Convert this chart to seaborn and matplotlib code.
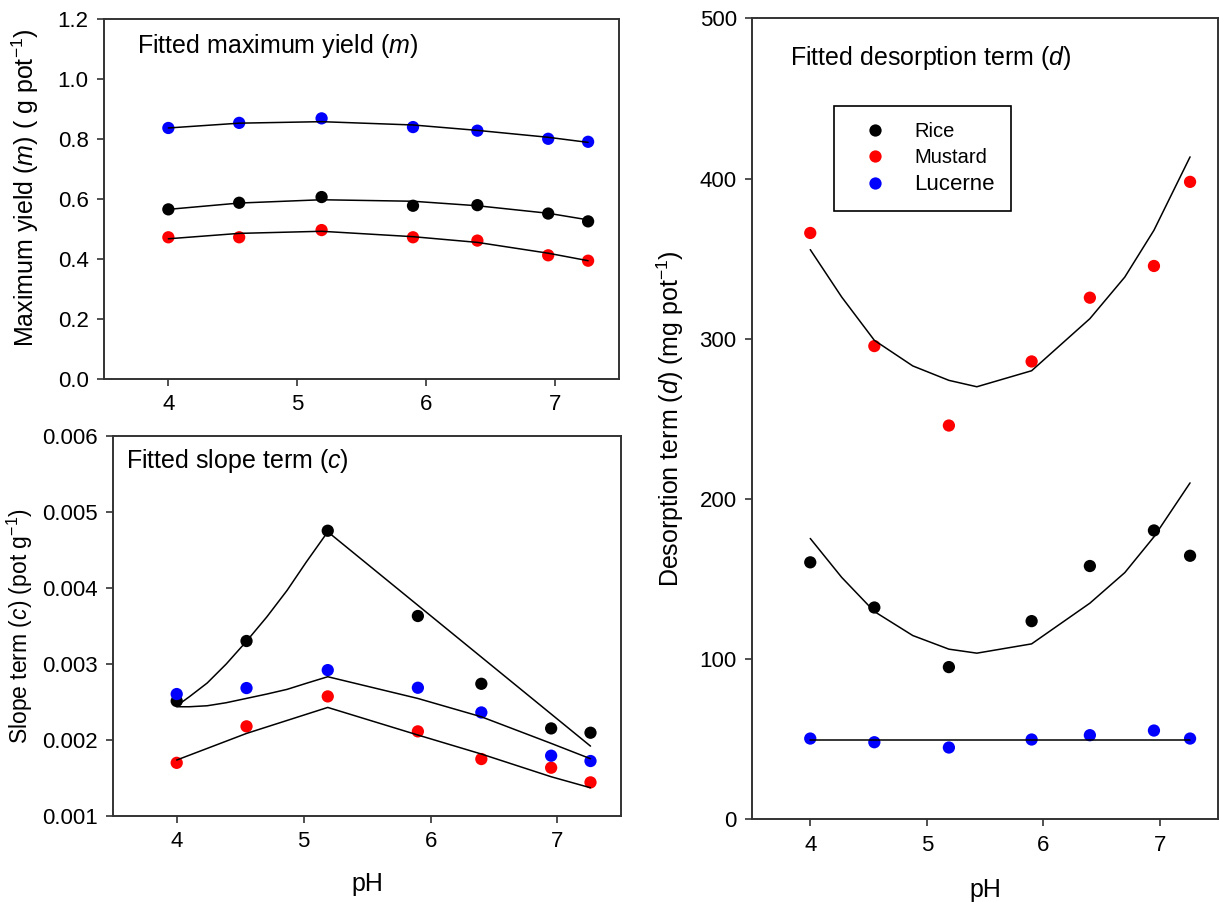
import pandas as pd
import matplotlib
matplotlib.use("Agg")
import matplotlib.pyplot as plt
import seaborn as sns

# ------------------------------------------
# Data
# ------------------------------------------
ph = [4.0, 4.55, 5.19, 5.90, 6.40, 6.95, 7.26]
crops = ["Rice", "Mustard", "Lucerne"]
colors = {"Rice": "#000000", "Mustard": "#ff0000", "Lucerne": "#0000ff"}

# fitted maximum yield m (g pot-1)
m_rice = [0.565, 0.587, 0.606, 0.577, 0.579, 0.551, 0.525]
m_mustard = [0.472, 0.472, 0.496, 0.472, 0.461, 0.412, 0.394]
m_lucerne = [0.836, 0.853, 0.868, 0.839, 0.827, 0.800, 0.790]

m_fit_rice = [0.565, 0.586, 0.597, 0.592, 0.577, 0.552, 0.530]
m_fit_mustard = [0.467, 0.485, 0.492, 0.474, 0.455, 0.419, 0.394]
m_fit_lucerne = [0.836, 0.852, 0.857, 0.846, 0.828, 0.805, 0.788]

# fitted slope term c (pot g-1)
c_rice = [0.002513, 0.003303, 0.004754, 0.003632, 0.002740, 0.002153, 0.002096]
c_mustard = [0.001700, 0.002180, 0.002574, 0.002114, 0.001750, 0.001636, 0.001443]
c_lucerne = [0.002605, 0.002684, 0.002920, 0.002688, 0.002363, 0.001794, 0.001724]

c_fit_curve_ph = [4.0, 4.10, 4.24, 4.39, 4.55, 4.71, 4.87, 5.02, 5.19]
c_fit_rice = [0.00245, 0.00257, 0.00275, 0.00300, 0.00330, 0.00362,
              0.00397, 0.00434, 0.00474, 0.00192]
c_fit_lucerne = [0.002438, 0.002438, 0.002451, 0.002491, 0.002548, 0.002605,
                 0.002667, 0.002746, 0.002833,
                 0.002547, 0.002306, 0.001956, 0.001754]
c_fit_mustard = [0.001737, 0.002087, 0.002429, 0.002066, 0.001816, 0.001517, 0.001372]

# fitted desorption term d (mg pot-1)
d_rice = [160.4, 132.2, 95.0, 123.7, 158.1, 180.3, 164.5]
d_mustard = [366.0, 295.4, 245.8, 285.8, 325.6, 345.4, 397.9]
d_lucerne = [50.4, 48.1, 44.8, 49.8, 52.5, 55.4, 50.4]

d_fit_ph = [4.0, 4.27, 4.55, 4.88, 5.19, 5.43, 5.90, 6.40, 6.70, 6.95, 7.26]
d_fit_rice = [175.3, 151.0, 129.7, 114.7, 106.2, 103.7, 109.5, 134.9, 154.0, 176.3, 210.0]
d_fit_mustard = [355.6, 326.0, 299.0, 283.0, 274.0, 270.0, 280.0, 312.5, 338.5, 367.7, 413.5]
d_fit_lucerne_ph = [4.0, 7.26]
d_fit_lucerne = [49.2, 49.2]


def long_df(series):
    rows = []
    for crop, (x, y) in series.items():
        for xi, yi in zip(x, y):
            rows.append({"pH": xi, "value": yi, "crop": crop})
    return pd.DataFrame(rows)


# ------------------------------------------
# Style
# ------------------------------------------
sns.set_style("ticks")
plt.rcParams["font.family"] = ["Liberation Sans", "DejaVu Sans"]
plt.rcParams["mathtext.fontset"] = "custom"
plt.rcParams["mathtext.rm"] = "Liberation Sans"
plt.rcParams["mathtext.it"] = "Liberation Sans:italic"
plt.rcParams["text.color"] = "black"
plt.rcParams["axes.labelcolor"] = "black"
plt.rcParams["xtick.color"] = "black"
plt.rcParams["ytick.color"] = "black"

TICK_FS = 16
LABEL_FS = 18
TITLE_FS = 18

fig = plt.figure(figsize=(12.19, 9.02), dpi=100)
ax_m = fig.add_axes([0.0853, 0.5798, 0.4225, 0.3995])
ax_c = fig.add_axes([0.0929, 0.0953, 0.4165, 0.4213])
ax_d = fig.add_axes([0.6169, 0.0917, 0.3823, 0.8880])


def draw_panel(ax, points, fits, legend=False):
    pts = long_df(points)
    sns.scatterplot(data=pts, x="pH", y="value", hue="crop", hue_order=crops,
                    palette=colors, s=78, linewidth=0, ax=ax, legend=legend,
                    zorder=2)
    fit = long_df(fits)
    for crop in crops:
        sub = fit[fit["crop"] == crop]
        sns.lineplot(data=sub, x="pH", y="value", color="black", lw=1.1,
                     sort=False, estimator=None, ax=ax, zorder=3)
    ax.set_xlim(3.5, 7.5)
    ax.set_xticks([4, 5, 6, 7])
    for side in ["top", "right", "left", "bottom"]:
        ax.spines[side].set_visible(True)
        ax.spines[side].set_color("#333333")
        ax.spines[side].set_linewidth(1.4)
    ax.tick_params(direction="out", length=5, width=1.2, pad=6,
                   labelsize=TICK_FS, color="#333333", labelcolor="black",
                   top=False, right=False)
    ax.set_xlabel("")
    ax.set_ylabel("")


# ------------------------------------------
# Maximum yield panel
# ------------------------------------------
draw_panel(
    ax_m,
    {"Rice": (ph, m_rice), "Mustard": (ph, m_mustard), "Lucerne": (ph, m_lucerne)},
    {"Rice": (ph, m_fit_rice), "Mustard": (ph, m_fit_mustard),
     "Lucerne": (ph, m_fit_lucerne)},
)
ax_m.set_ylim(0, 1.2)
ax_m.set_yticks([0.0, 0.2, 0.4, 0.6, 0.8, 1.0, 1.2])
ax_m.set_yticklabels(["0.0", "0.2", "0.4", "0.6", "0.8", "1.0", "1.2"])
ax_m.set_ylabel("Maximum yield ($m$) ( g pot$^{-1}$)", fontsize=LABEL_FS)
ax_m.yaxis.set_label_coords(-0.122, 0.53)
ax_m.text(0.0635, 0.9056, "Fitted maximum yield ($m$)", transform=ax_m.transAxes,
          fontsize=TITLE_FS, ha="left", va="baseline")

# ------------------------------------------
# Slope term panel
# ------------------------------------------
draw_panel(
    ax_c,
    {"Rice": (ph, c_rice), "Mustard": (ph, c_mustard), "Lucerne": (ph, c_lucerne)},
    {"Rice": (c_fit_curve_ph + [7.26], c_fit_rice),
     "Mustard": (ph, c_fit_mustard),
     "Lucerne": (c_fit_curve_ph + ph[3:], c_fit_lucerne)},
)
ax_c.set_ylim(0.001, 0.006)
ax_c.set_yticks([0.001, 0.002, 0.003, 0.004, 0.005, 0.006])
ax_c.set_yticklabels(["0.001", "0.002", "0.003", "0.004", "0.005", "0.006"])
ax_c.set_ylabel("Slope term ($c$) (pot g$^{-1}$)", fontsize=16.5)
ax_c.yaxis.set_label_coords(-0.154, 0.5)
ax_c.set_xlabel("pH", fontsize=LABEL_FS)
ax_c.xaxis.set_label_coords(0.5, -0.147)
ax_c.text(0.025, 0.915, "Fitted slope term ($c$)", transform=ax_c.transAxes,
          fontsize=TITLE_FS, ha="left", va="baseline")

# ------------------------------------------
# Desorption term panel
# ------------------------------------------
draw_panel(
    ax_d,
    {"Rice": (ph, d_rice), "Mustard": (ph, d_mustard), "Lucerne": (ph, d_lucerne)},
    {"Rice": (d_fit_ph, d_fit_rice), "Mustard": (d_fit_ph, d_fit_mustard),
     "Lucerne": (d_fit_lucerne_ph, d_fit_lucerne)},
    legend=True,
)
ax_d.set_ylim(0, 500)
ax_d.set_yticks([0, 100, 200, 300, 400, 500])
ax_d.set_ylabel("Desorption term ($d$) (mg pot$^{-1}$)", fontsize=LABEL_FS)
ax_d.yaxis.set_label_coords(-0.142, 0.5)
ax_d.set_xlabel("pH", fontsize=LABEL_FS)
ax_d.xaxis.set_label_coords(0.5, -0.073)
ax_d.text(0.0807, 0.9417, "Fitted desorption term ($d$)", transform=ax_d.transAxes,
          fontsize=TITLE_FS, ha="left", va="baseline")

handles, labels = ax_d.get_legend_handles_labels()
leg = ax_d.legend(handles, labels, loc="upper left", bbox_to_anchor=(0.176, 0.891),
                  borderaxespad=0, frameon=True, fancybox=False, framealpha=1,
                  edgecolor="black", fontsize=14.5, labelspacing=0.35,
                  borderpad=0.8, handlelength=2.5, handletextpad=0.7)
leg.get_frame().set_linewidth(1.2)
leg.get_texts()[2].set_fontsize(16)

plt.savefig("out.png", dpi=100)
